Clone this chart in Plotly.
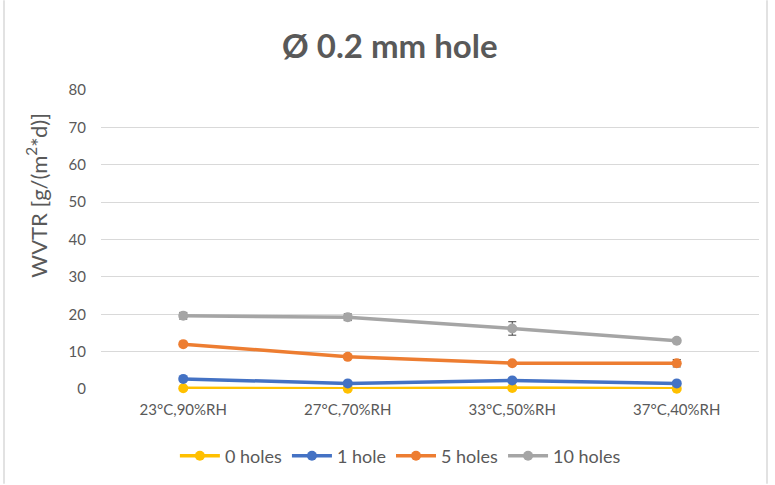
import plotly.graph_objects as go

categories = ["23°C,90%RH", "27°C,70%RH", "33°C,50%RH", "37°C,40%RH"]

holes_0 = [0.2, 0.1, 0.3, 0.1]
holes_1 = [2.7, 1.5, 2.3, 1.5]
holes_5 = [12.0, 8.6, 6.9, 6.9]
holes_10 = [19.6, 19.2, 16.2, 12.9]

err_0 = [0.1, 0.1, 0.1, 0.1]
err_1 = [0.3, 0.3, 0.3, 0.3]
err_5 = [0.4, 0.5, 0.4, 1.0]
err_10 = [0.9, 0.9, 1.8, 0.5]

series_names = ["0 holes", "1 hole", "5 holes", "10 holes"]
series_colors = ["#FFC000", "#4472C4", "#ED7D31", "#A5A5A5"]

y_ticks = [0, 10, 20, 30, 40, 50, 60, 70, 80]

fig = go.Figure()
for name, vals, errs, col in zip(series_names,
                                 [holes_0, holes_1, holes_5, holes_10],
                                 [err_0, err_1, err_5, err_10],
                                 series_colors):
    fig.add_trace(go.Scatter(
        x=categories, y=vals, name=name, mode="lines+markers",
        line=dict(color=col, width=3.5),
        marker=dict(color=col, size=10, symbol="circle"),
        cliponaxis=False,
        error_y=dict(type="data", array=errs, visible=True,
                     color="#404040", thickness=1, width=4),
    ))

font_family = "Lato, 'Liberation Sans', sans-serif"
grey = "#595959"

fig.update_layout(
    width=775, height=485,
    margin=dict(l=101, r=16, t=90, b=95),
    paper_bgcolor="white", plot_bgcolor="white",
    font=dict(family=font_family, color=grey, size=14),
    title=dict(text="<b>Ø 0.2 mm hole</b>", x=0.503, xanchor="center",
               y=0.905, yanchor="middle",
               font=dict(size=33, color=grey, family=font_family)),
    showlegend=True,
    legend=dict(orientation="h", x=0.455, xanchor="center", y=-0.22, yanchor="middle",
                font=dict(size=18, color=grey), itemwidth=40,
                traceorder="normal"),
    xaxis=dict(type="category", showgrid=False, zeroline=False,
               showline=False, ticks="", ticklabelstandoff=10,
               tickfont=dict(size=15, color=grey),
               range=[-0.5, 3.5]),
    yaxis=dict(range=[0, 80], tickvals=y_ticks, showgrid=True,
               gridcolor="#D9D9D9", gridwidth=1, zeroline=False,
               showline=False, ticks="", ticklabelstandoff=14,
               tickfont=dict(size=15, color=grey)),
)

# Vertical axis title
fig.add_annotation(text="WVTR [g/(m<sup>2</sup>*d)]", xref="paper", yref="paper",
                   x=-64/658, y=(390 - 196) / 300, xanchor="center", yanchor="middle",
                   textangle=-90, showarrow=False,
                   font=dict(size=22, color=grey, family=font_family))

# Chart frame on the left and right edges
fig.add_shape(type="line", xref="paper", yref="paper",
              x0=-97/658, x1=-97/658, y0=-95/300, y1=90/300 + 1,
              line=dict(color="#D9D9D9", width=1.5))
fig.add_shape(type="line", xref="paper", yref="paper",
              x0=1 + 8/658, x1=1 + 8/658, y0=-95/300, y1=90/300 + 1,
              line=dict(color="#D9D9D9", width=1.5))

fig.write_html("out.html")
